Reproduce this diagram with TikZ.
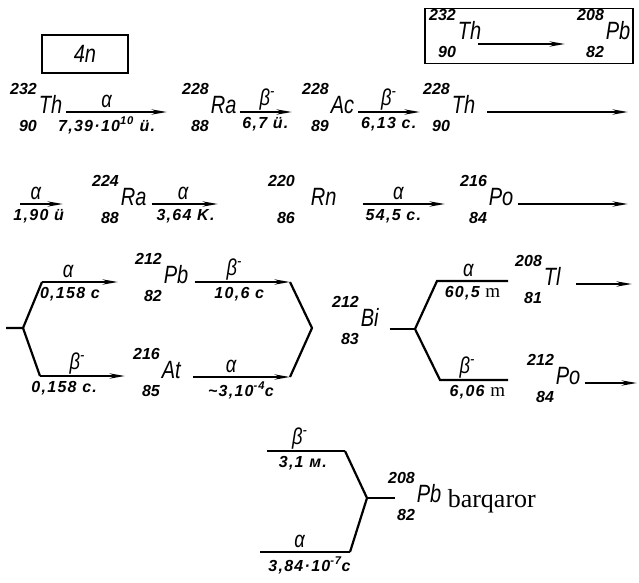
\documentclass[tikz,border=0pt]{standalone}
\usepackage{fontspec}
\setmainfont{Liberation Serif}
\newfontfamily\hand{Liberation Sans}[FakeStretch=0.8]
\newfontfamily\handn{Liberation Sans}
\newfontfamily\handl{Liberation Sans}[LetterSpace=8]
\usetikzlibrary{arrows.meta,positioning}

\newcommand{\symfont}{\hand\itshape\fontsize{25}{25}\selectfont}
\newcommand{\numfont}{\handn\itshape\bfseries\fontsize{16}{18}\selectfont}
\newcommand{\labfont}{\handl\itshape\bfseries\fontsize{16}{18}\selectfont}
\newcommand{\greekfont}{\hand\itshape\fontsize{23}{23}\selectfont}
% nuclide: mass number over charge number, then the symbol
\newcommand{\nuc}[4][2pt]{{\numfont\begin{tabular}{@{}r@{}}#2\\[19pt]#3\end{tabular}}\kern#1{\symfont #4}}
\newcommand{\bminus}{β\textsuperscript{-}}
\newcommand{\unitm}{{\rmfamily\mdseries\upshape\fontsize{19}{19}\selectfont m}}

\tikzset{
  nucl/.style={anchor=west, inner sep=0pt},
  decay/.style={line width=2.2pt, -{Stealth[length=15pt,width=5pt]}},
  branch/.style={line width=2.2pt, line join=miter},
  up/.style={above=3pt, font=\greekfont, inner sep=0pt},
  dn/.style={below=4pt, font=\labfont, inner sep=0pt},
  frame/.style={draw, line width=1.6pt, inner sep=0pt},
}

\begin{document}
\begin{tikzpicture}[x=1pt,y=-1pt]
\useasboundingbox (0,0) rectangle (639,582);

% family boxes
\node[frame, minimum width=86pt, minimum height=38pt, font=\symfont] (fam) at (85,54) {4n};
\node[frame, minimum width=208pt, minimum height=55pt] (chain) at (529,36) {};
\node[nucl] (bth) at (429,35) {\nuc{232}{90}{Th}};
\node[nucl] (bpb) at (577,35) {\nuc{208}{82}{Pb}};
\draw[decay, shorten <=-3pt, shorten >=12pt] ([yshift=-9pt]bth.east) -- ([yshift=-9pt]bpb.west);

% row 1
\node[nucl] (th232) at (10,109) {\nuc{232}{90}{Th}};
\node[nucl] (ra228) at (182,109) {\nuc{228}{88}{Ra}};
\node[nucl] (ac228) at (302,109) {\nuc{228}{89}{Ac}};
\node[nucl] (th228) at (423,109) {\nuc{228}{90}{Th}};
\coordinate (end1) at (628,112);

\draw[decay, shorten <=4pt, shorten >=15pt] ([yshift=-3pt]th232.east) -- ([yshift=-3pt]ra228.west)
  node[up, pos=0.37] {α} node[dn, pos=0.37] {7,39·10\textsuperscript{10} ü.};
\draw[decay, shorten <=3pt, shorten >=10pt] ([yshift=-3pt]ra228.east) -- ([yshift=-3pt]ac228.west)
  node[up, pos=0.47, above=1pt] {\bminus} node[dn, pos=0.44] {6,7 ü.};
\draw[decay, shorten <=4pt, shorten >=3pt] ([yshift=-3pt]ac228.east) -- ([yshift=-3pt]th228.west)
  node[up, pos=0.5, above=1pt] {\bminus} node[dn, pos=0.5] {6,13 c.};
\draw[decay, shorten <=12pt] ([yshift=-3pt]th228.east) -- (end1);

% row 2
\coordinate (start2) at (20,204);
\node[nucl] (ra224) at (92,201) {\nuc{224}{88}{Ra}};
\node[nucl] (rn220) at (268,201) {\nuc[16pt]{220}{86}{Rn}};
\node[nucl] (po216) at (460,201) {\nuc{216}{84}{Po}};
\coordinate (end2) at (628,204);

\draw[decay, shorten >=29pt] (start2) -- ([yshift=-3pt]ra224.west)
  node[up, pos=0.22] {α} node[dn, pos=0.26] {1,90 ü};
\draw[decay, shorten <=5pt, shorten >=50pt] ([yshift=-3pt]ra224.east) -- ([yshift=-3pt]rn220.west)
  node[up, pos=0.3] {α} node[dn, pos=0.32] {3,64 K.};
\draw[decay, shorten <=26pt, shorten >=15pt] ([yshift=-3pt]rn220.east) -- ([yshift=-3pt]po216.west)
  node[up, pos=0.5] {α} node[dn, pos=0.46] {54,5 c.};
\draw[decay, shorten <=4pt] ([yshift=-3pt]po216.east) -- (end2);

% row 3: Pb / At branches
\coordinate (tick1) at (6,328);
\coordinate (fork1) at (23,328);
\coordinate (up1) at (42,282);
\coordinate (lo1) at (40,376);
\coordinate (join1) at (290,282);
\coordinate (tip1) at (312,328);
\coordinate (join2) at (290,377);
\node[nucl] (pb212) at (135,279) {\nuc{212}{82}{Pb}};
\node[nucl] (at216) at (133,374) {\nuc{216}{85}{At}};

\draw[branch] (tick1) -- (fork1) -- (up1);
\draw[branch] (fork1) -- (lo1);
\draw[decay, shorten >=17pt] (up1) -- ([yshift=-3pt]pb212.west)
  node[up, pos=0.28] {α} node[dn, pos=0.3] {0,158 c};
\draw[decay, shorten >=8pt] (lo1) -- ([yshift=-2pt]at216.west)
  node[up, pos=0.4, above=1pt] {\bminus} node[dn, pos=0.26] {0,158 c.};
\draw[decay, shorten <=6pt] ([yshift=-3pt]pb212.east) -- (join1)
  node[up, pos=0.45, above=1pt] {\bminus} node[dn, pos=0.5] {10,6 c};
\draw[decay, shorten <=12pt] ([yshift=-3pt]at216.east) -- (join2)
  node[up, pos=0.46] {α} node[dn, pos=0.55] {\textasciitilde3,10\textsuperscript{-4}c};
\draw[branch] (join1) -- (tip1) -- (join2);

% row 3: Bi branches
\node[nucl] (bi212) at (332,322) {\nuc{212}{83}{Bi}};
\coordinate (fork2) at (415,329);
\coordinate (up2) at (437,281);
\coordinate (up2e) at (508,281);
\coordinate (lo2) at (440,380);
\coordinate (lo2e) at (508,380);
\node[nucl] (tl208) at (515,281) {\nuc{208}{81}{Tl}};
\node[nucl] (po212) at (527,380) {\nuc{212}{84}{Po}};
\coordinate (end3) at (632,284);
\coordinate (end4) at (637,383);

\draw[branch, shorten <=11pt] ([yshift=-7pt]bi212.east) -- (fork2);
\draw[branch] (fork2) -- (up2) -- (up2e)
  node[up, pos=0.44] {α} node[dn, pos=0.5] {60,5 \unitm};
\draw[branch] (fork2) -- (lo2) -- (lo2e)
  node[up, pos=0.4, above=1pt] {\bminus} node[dn, pos=0.55] {6,06 \unitm};
\draw[decay, shorten <=15pt] ([yshift=-3pt]tl208.east) -- (end3);
\draw[decay, shorten <=4pt] ([yshift=-3pt]po212.east) -- (end4);

% row 4: stable lead
\coordinate (up3) at (267,451);
\coordinate (up3e) at (345,451);
\coordinate (fork3) at (367,498);
\coordinate (lo3e) at (350,552);
\coordinate (lo3) at (260,552);
\node[nucl] (pb208) at (388,498) {\nuc{208}{82}{Pb}};
\node[right=6pt of pb208, yshift=-3pt, font=\rmfamily\fontsize{26}{26}\selectfont, inner sep=0pt] (stable) {barqaror};

\draw[branch] (up3) -- (up3e)
  node[up, pos=0.42, above=1pt] {\bminus} node[dn, pos=0.46] {3,1 м.};
\draw[branch] (lo3) -- (lo3e)
  node[up, pos=0.44] {α} node[dn, pos=0.55] {3,84·10\textsuperscript{-7}c};
\draw[branch] (up3e) -- (fork3) -- (lo3e);
\draw[branch] (fork3) -- ([xshift=7pt]pb208.west);
\end{tikzpicture}
\end{document}
